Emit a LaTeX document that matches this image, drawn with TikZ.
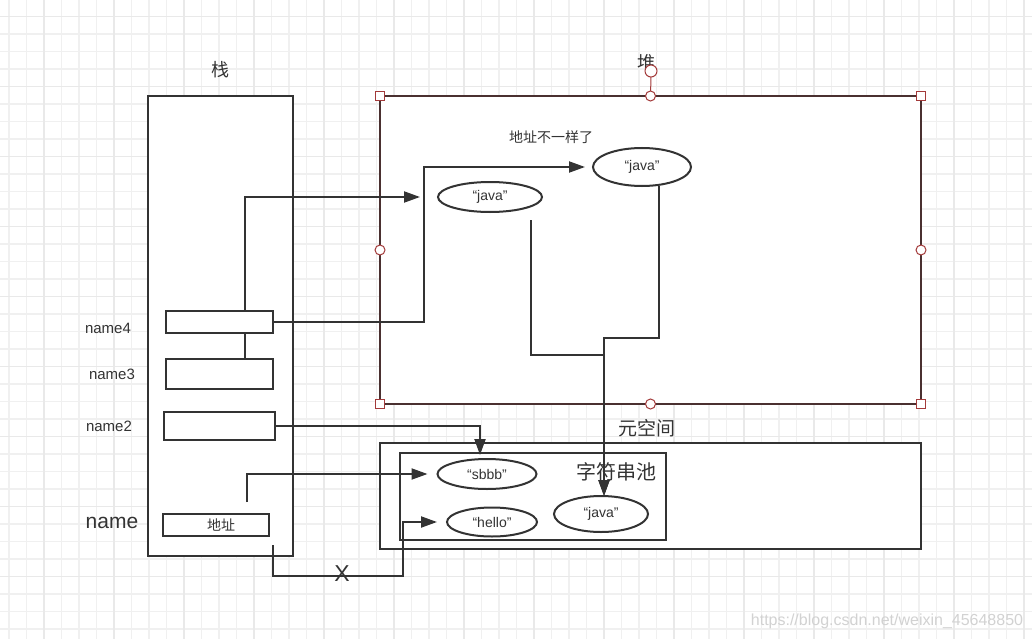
\documentclass[tikz,border=0pt]{standalone}
\usepackage{fontspec}
\setmainfont{Liberation Sans}
\newfontfamily\cjk{Noto Sans CJK SC}
\usetikzlibrary{arrows.meta,shapes.geometric}
\definecolor{ink}{HTML}{333333}
\definecolor{heapline}{HTML}{4A3030}
\definecolor{handle}{HTML}{A33A3A}
\definecolor{gridminor}{HTML}{F0F0F0}
\definecolor{gridmajor}{HTML}{E9E9E9}

\begin{document}
\begin{tikzpicture}[x=1pt,y=-1pt,
  box/.style={draw=ink,line width=2pt,fill=white,inner sep=0pt,outer sep=0pt},
  oval/.style={ellipse,draw=ink,line width=2pt,fill=white,inner sep=0pt,outer sep=0pt,text=ink,font=\fontsize{14}{16}\selectfont},
  arr/.style={draw=ink,line width=2pt,-{Triangle[length=16pt,width=11pt]}},
  wire/.style={draw=ink,line width=2pt},
  lbl/.style={text=ink,inner sep=0pt},
  hdlbox/.style={draw=handle,fill=white,line width=1pt,minimum size=9pt,inner sep=0pt},
  hdlcirc/.style={circle,draw=handle,fill=white,line width=1pt,minimum size=10pt,inner sep=0pt}]
  \useasboundingbox (0,0) rectangle (1032,639);
  \fill[white] (0,0) rectangle (1032,639);
  % canvas grid
  \begin{scope}
    \clip (0,0) rectangle (1032,639);
    \foreach \k in {0,...,58}
      \draw[gridminor,line width=1.2pt] (9+17.5*\k,0) -- (9+17.5*\k,639);
    \foreach \k in {0,...,36}
      \draw[gridminor,line width=1.2pt] (0,16.5+17.5*\k) -- (1032,16.5+17.5*\k);
    \foreach \k in {0,...,14}
      \draw[gridmajor,line width=1.2pt] (44+70*\k,0) -- (44+70*\k,639);
    \foreach \k in {0,...,8}
      \draw[gridmajor,line width=1.2pt] (0,16.5+70*\k) -- (1032,16.5+70*\k);
  \end{scope}

  % stack
  \node[lbl,font=\cjk\fontsize{18}{20}\selectfont] (tstack) at (220,70) {栈};
  \node[box,minimum width=145pt,minimum height=460pt] (stack) at (220.5,326) {};
  \node[box,minimum width=107pt,minimum height=22pt] (n4) at (219.5,322) {};
  \node[box,minimum width=107pt,minimum height=30pt] (n3) at (219.5,374) {};
  \node[box,minimum width=111pt,minimum height=28pt] (n2) at (219.5,426) {};
  \node[box,minimum width=106pt,minimum height=22pt,text=ink,font=\cjk\fontsize{14}{16}\selectfont] (n1) at (216,525) {\hspace{10pt}地址};
  \node[lbl,font=\fontsize{15}{17}\selectfont] (ln4) at (108,328) {name4};
  \node[lbl,font=\fontsize{15}{17}\selectfont] (ln3) at (112,374) {name3};
  \node[lbl,font=\fontsize{15}{17}\selectfont] (ln2) at (109,426) {name2};
  \node[lbl,font=\fontsize{21}{23}\selectfont] (ln1) at (112,523) {name};

  % heap
  \node[lbl,font=\cjk\fontsize{18}{20}\selectfont] (theap) at (646,63) {堆};
  \node[box,draw=heapline,minimum width=541pt,minimum height=308pt] (heap) at (650.5,250) {};
  \node[lbl,font=\cjk\fontsize{14}{16}\selectfont] (tdiff) at (551,137) {地址不一样了};
  \node[oval,minimum width=104pt,minimum height=30pt] (j1) at (490,197) {“java”};
  \node[oval,minimum width=98pt,minimum height=38pt] (j2) at (642,167) {“java”};

  % metaspace
  \node[lbl,font=\cjk\fontsize{19}{21}\selectfont] (tmeta) at (647,428) {元空间};
  \node[box,minimum width=541pt,minimum height=106pt] (meta) at (650.5,496) {};
  \node[box,minimum width=266pt,minimum height=87pt] (pool) at (533,496.5) {};
  \node[lbl,font=\cjk\fontsize{20}{22}\selectfont] (tpool) at (616,472) {字符串池};
  \node[oval,minimum width=99pt,minimum height=30pt] (sb) at (487,474) {“sbbb”};
  \node[oval,minimum width=90pt,minimum height=29pt] (he) at (492,522) {“hello”};
  \node[oval,minimum width=94pt,minimum height=36pt] (j3) at (601,514) {“java”};

  % references
  \coordinate (b4) at (424,322);
  \coordinate (m1) at (604,355);
  \coordinate (m2) at (604,338);
  \coordinate (xb) at (403,576);
  \draw[wire] ([xshift=25.5pt]n3.north) -- ([xshift=25.5pt]n4.south);
  \draw[arr] ([xshift=25.5pt]n4.north) |- ([xshift=-18pt]j1.west);
  \draw[arr] (n4.east) -- (b4) |- ([xshift=-8pt]j2.west);
  \draw[wire] ([xshift=41pt,yshift=-8pt]j1.south) |- (m1);
  \draw[arr] ([xshift=17pt]j2.south) |- (m2) -- (m2 |- j3.north);
  \draw[arr] (m1) -- (m1 |- j3.north);
  \draw[arr,shorten >=4pt] (n2.east) -| ([xshift=-7pt]sb.north);
  \draw[arr,shorten >=10pt] ([xshift=31pt,yshift=12pt]n1.north) |- (sb.west);
  \draw[arr] ([xshift=57pt,yshift=-9pt]n1.south) |- (xb) |- ([xshift=-10pt]he.west);
  \node[lbl,font=\fontsize{23}{25}\selectfont] (cut) at (342,574) {X};

  % selection handles
  \draw[handle,line width=1pt] (heap.north) -- (651,76);
  \node[hdlcirc,minimum size=12pt] (rot) at (651,71) {};
  \foreach \a in {north west,north east,south west,south east}
    \node[hdlbox] at (heap.\a) {};
  \foreach \a in {north,south,west,east}
    \node[hdlcirc] at (heap.\a) {};

  \node[text=gray!35,inner sep=0pt,font=\fontsize{16}{18}\selectfont] (wm) at (887,621) {https://blog.csdn.net/weixin\_45648850};
\end{tikzpicture}
\end{document}
